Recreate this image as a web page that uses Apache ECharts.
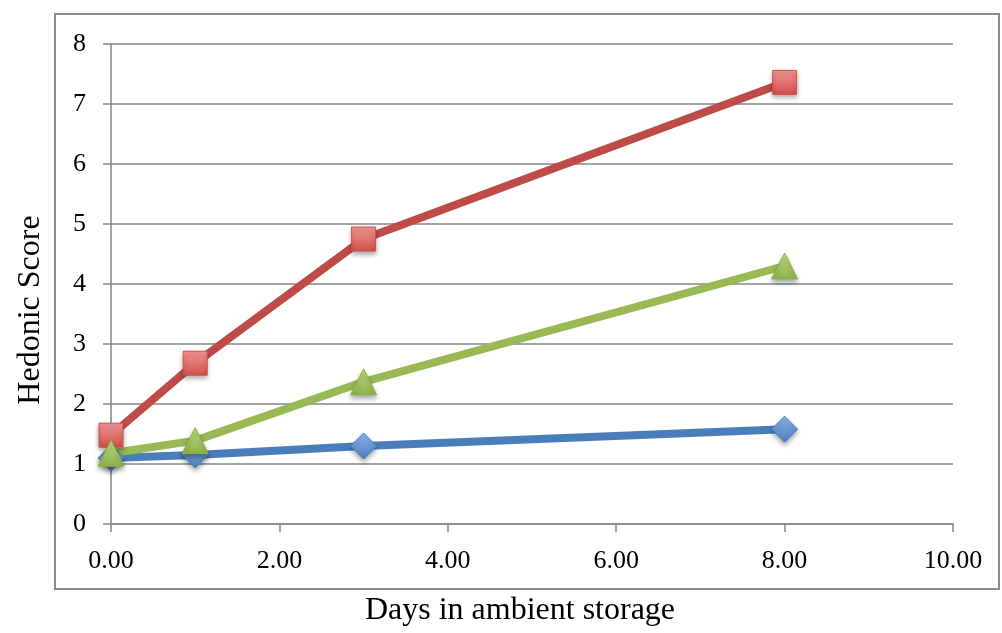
<!DOCTYPE html>
<html>
<head>
<meta charset="utf-8">
<script src="https://cdn.jsdelivr.net/npm/echarts@6/dist/echarts.min.js"></script>
<style>html,body{margin:0;padding:0;background:#fff}#c{width:1002px;height:633px}</style>
</head>
<body>
<div id="c"></div>
<script>
const days = [0, 1, 3, 8];
const seriesBlue = [1.1, 1.15, 1.3, 1.58];
const seriesRed = [1.48, 2.68, 4.75, 7.36];
const seriesGreen = [1.18, 1.39, 2.37, 4.3];
const xTitle = 'Days in ambient storage';
const yTitle = 'Hedonic Score';

function pairs(vals) { return days.map((d, i) => [d, vals[i]]); }
function grad(c1, c2) {
  return new echarts.graphic.LinearGradient(0, 0, 0, 1, [{offset: 0, color: c1}, {offset: 1, color: c2}]);
}
const font = '"Liberation Serif", "Times New Roman", serif';
const chart = echarts.init(document.getElementById('c'));
function mk(name, vals, lineColor, symbol, c1, c2) {
  return {
    name: name, type: 'line', data: pairs(vals), symbol: symbol, symbolSize: symbol === 'rect' ? 24 : 26,
    lineStyle: {color: lineColor, width: 8},
    itemStyle: {color: grad(c1, c2), borderColor: c2, borderWidth: 1, shadowBlur: 5, shadowColor: 'rgba(0,0,0,0.35)', shadowOffsetY: 3},
    emphasis: {disabled: true}, animation: false
  };
}
chart.setOption({
  animation: false,
  grid: {left: 111, right: 49, top: 44, bottom: 109, containLabel: false, outerBoundsMode: 'none'},
  graphic: [{type: 'rect', shape: {x: 55, y: 14, width: 944, height: 575}, style: {fill: 'none', stroke: '#8c8c8c', lineWidth: 2}, z: -1}],
  xAxis: {
    type: 'value', min: 0, max: 10, interval: 2,
    name: xTitle, nameLocation: 'middle', nameGap: 71,
    nameTextStyle: {fontFamily: font, fontSize: 32, color: '#000', padding: [0, 24, 0, 0]},
    axisLine: {show: true, lineStyle: {color: '#868686', width: 1.5}},
    axisTick: {show: true, length: 8, lineStyle: {color: '#868686', width: 1.5}},
    axisLabel: {fontFamily: font, fontSize: 26, color: '#000', margin: 24, formatter: v => v.toFixed(2)},
    splitLine: {show: false}
  },
  yAxis: {
    type: 'value', min: 0, max: 8, interval: 1,
    name: yTitle, nameLocation: 'middle', nameGap: 64, nameRotate: 90,
    nameTextStyle: {fontFamily: font, fontSize: 32, color: '#000', padding: [0, 52, 0, 0]},
    axisLine: {show: true, lineStyle: {color: '#868686', width: 1.5}},
    axisTick: {show: true, length: 8, lineStyle: {color: '#868686', width: 1.5}},
    axisLabel: {fontFamily: font, fontSize: 26, color: '#000', margin: 25},
    splitLine: {show: true, lineStyle: {color: '#868686', width: 1.5}}
  },
  series: [
    mk('A', seriesBlue, '#4A7EBB', 'diamond', '#8DB6F0', '#4A7EBB'),
    mk('B', seriesRed, '#BE4B48', 'rect', '#F59896', '#D14F4B'),
    mk('C', seriesGreen, '#98B954', 'triangle', '#C3E07F', '#8DB24A')
  ]
});
</script>
</body>
</html>
